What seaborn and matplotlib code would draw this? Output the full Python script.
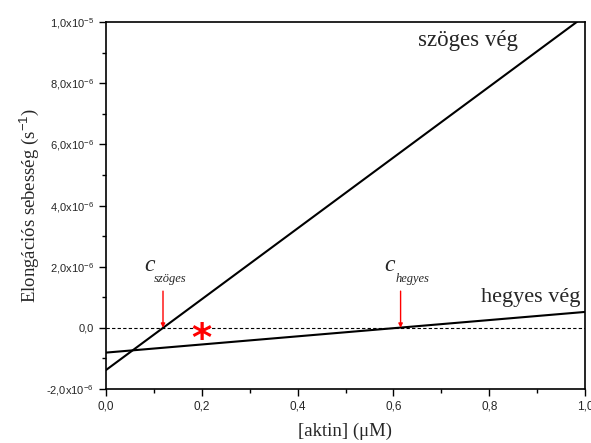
import numpy as np
import pandas as pd
import seaborn as sns
import matplotlib.pyplot as plt

# data
aktin = [0.0, 1.0]
szoges = [-1.38e-6, 1.02e-5]
hegyes = [-0.81e-6, 0.52e-6]
c_szoges = 0.119
c_hegyes = 0.615
star_x, star_y = 0.2, 0.0

x_ticks = [0.0, 0.2, 0.4, 0.6, 0.8, 1.0]
x_tick_labels = ["0,0", "0,2", "0,4", "0,6", "0,8", "1,0"]
y_ticks = [-2e-6, 0, 2e-6, 4e-6, 6e-6, 8e-6, 1e-5]
y_tick_labels = [r"-2,0x10$^{-6}$", "0,0", r"2,0x10$^{-6}$", r"4,0x10$^{-6}$",
                 r"6,0x10$^{-6}$", r"8,0x10$^{-6}$", r"1,0x10$^{-5}$"]

df = pd.DataFrame({
    "aktin": aktin * 2,
    "v": szoges + hegyes,
    "veg": ["szöges vég"] * 2 + ["hegyes vég"] * 2,
})

sns.set_style("ticks")
plt.rcParams["font.family"] = ["Liberation Sans", "DejaVu Sans"]
plt.rcParams["mathtext.fontset"] = "custom"
plt.rcParams["mathtext.rm"] = "Liberation Sans"
serif = ["Liberation Serif", "DejaVu Serif"]

fig = plt.figure(figsize=(5.91, 4.43), dpi=100)
ax = fig.add_axes([106 / 591, 1 - 389 / 443, 479 / 591, 367 / 443])

sns.lineplot(data=df, x="aktin", y="v", units="veg", estimator=None,
             color="black", lw=1.5, ax=ax, legend=False)
ax.axhline(0, color="black", lw=0.8, ls=(0, (3, 2)))

ax.set_xlim(0, 1)
ax.set_ylim(-2e-6, 1e-5)
ax.set_xticks(x_ticks)
ax.set_xticklabels(x_tick_labels, fontsize=8.5)
ax.set_yticks(y_ticks)
ax.set_yticklabels(y_tick_labels, fontsize=8)
ax.set_xticks(np.arange(0.1, 1.0, 0.2), minor=True)
ax.set_yticks(np.arange(-1e-6, 1e-5, 2e-6), minor=True)
ax.tick_params(which="major", direction="out", length=5, width=1, color="black")
ax.tick_params(which="minor", direction="out", length=3, width=1, color="black")
for s in ax.spines.values():
    s.set_color("black")
    s.set_linewidth(1.2)

ax.set_xlabel("[aktin] (μM)", family=serif, fontsize=13.5, labelpad=7)
ax.set_ylabel(r"Elongációs sebesség (s$^{-1}$)", family=serif, fontsize=13.5, labelpad=4)

ax.text(0.652, 9.4e-6, "szöges vég", family=serif, fontsize=16.5, va="center")
ax.text(0.783, 1.0e-6, "hegyes vég", family=serif, fontsize=16, va="center")

ax.text(0.08, 1.85e-6, "c", family=serif, style="italic", fontsize=17)
ax.text(0.1, 1.5e-6, "szöges", family=serif, style="italic", fontsize=9)
ax.text(0.58, 1.85e-6, "c", family=serif, style="italic", fontsize=17)
ax.text(0.605, 1.5e-6, "hegyes", family=serif, style="italic", fontsize=9)

for cx in [c_szoges, c_hegyes]:
    ax.annotate("", xy=(cx, 0), xytext=(cx, 1.2e-6),
                arrowprops=dict(arrowstyle="-|>", color="red", lw=1,
                                mutation_scale=6, shrinkA=0, shrinkB=0))

ax.annotate("*", xy=(star_x, star_y), xytext=(0, -9), textcoords="offset points",
            color="red", fontsize=28, fontweight="bold",
            ha="center", va="center", family="DejaVu Sans")

fig.savefig("out.png", dpi=100)
